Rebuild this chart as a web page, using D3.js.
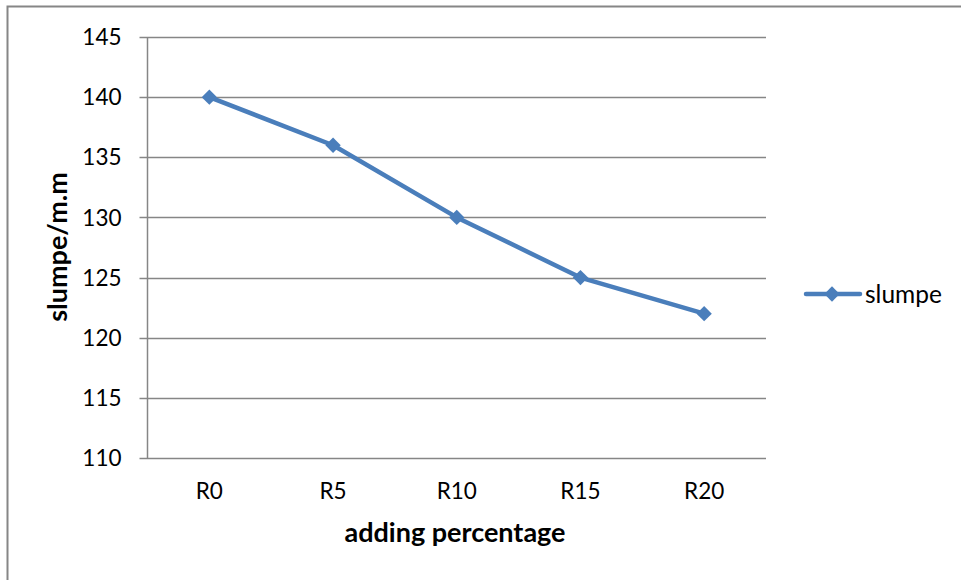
<!DOCTYPE html>
<html><head><meta charset="utf-8">
<script src="https://cdn.jsdelivr.net/npm/d3@7"></script>
<style>body{margin:0;background:#fff}svg{display:block}text{font-family:Lato,"Open Sans",sans-serif;fill:#000}</style>
</head><body><svg id="c" width="961" height="580"></svg>
<script>
const categories = ["R0","R5","R10","R15","R20"];
const slumpe = [140,136,130,125,122];
const yTicks = [110,115,120,125,130,135,140,145];
const seriesName = "slumpe";

const svg = d3.select("#c");
svg.append("rect").attr("x",7.5).attr("y",6.5).attr("width",1000).attr("height",1000)
  .attr("fill","#fff").attr("stroke","#868686").attr("stroke-width",2);

const L=147.5,R=766,T=37,B=458;
const x = d3.scaleBand().domain(categories).range([L,R]);
const y = d3.scaleLinear().domain([110,145]).range([B,T]);

// gridlines
svg.append("g").selectAll("line").data(yTicks).join("line")
  .attr("x1",L-8).attr("x2",R).attr("y1",d=>Math.round(y(d))+0.5).attr("y2",d=>Math.round(y(d))+0.5)
  .attr("stroke","#868686").attr("stroke-width",1.5);
svg.append("line").attr("x1",L).attr("x2",L).attr("y1",T).attr("y2",B).attr("stroke","#868686").attr("stroke-width",1.5);

// y labels
svg.append("g").selectAll("text").data(yTicks).join("text")
  .attr("x",L-26).attr("y",d=>y(d)).attr("dy","0.36em").attr("text-anchor","end")
  .attr("font-size",22.5).text(d=>d);
// x labels
svg.append("g").selectAll("text").data(categories).join("text")
  .attr("x",d=>x(d)+x.bandwidth()/2).attr("y",499).attr("text-anchor","middle")
  .attr("font-size",22.5).text(d=>d);

svg.append("text").attr("x",455).attr("y",542).attr("text-anchor","middle")
  .attr("font-size",27).attr("font-weight","bold").text("adding percentage");
svg.append("text").attr("transform","translate(67,247) rotate(-90)").attr("text-anchor","middle")
  .attr("font-size",27).attr("font-weight","bold").text("slumpe/m.m");

const color="#4a7ebb";
const line = d3.line().x((d,i)=>x(categories[i])+x.bandwidth()/2).y(d=>y(d));
svg.append("path").datum(slumpe).attr("d",line).attr("fill","none").attr("stroke",color).attr("stroke-width",4.5).attr("stroke-linejoin","round");
const diamond = d3.symbol().type(d3.symbolDiamond2).size(150);
svg.append("g").selectAll("path").data(slumpe).join("path")
  .attr("transform",(d,i)=>`translate(${x(categories[i])+x.bandwidth()/2},${y(d)})`)
  .attr("d",diamond).attr("fill",color);

// legend
svg.append("line").attr("x1",806).attr("x2",860).attr("y1",294).attr("y2",294).attr("stroke",color).attr("stroke-width",4.5).attr("stroke-linecap","round");
svg.append("path").attr("transform","translate(832,294)").attr("d",diamond).attr("fill",color);
svg.append("text").attr("x",865).attr("y",294).attr("dy","0.36em").attr("font-size",24.5).text(seriesName);
</script></body></html>
